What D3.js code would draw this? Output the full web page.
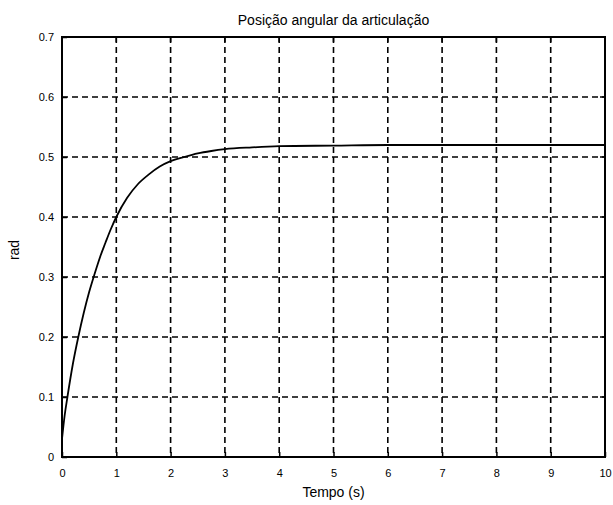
<!DOCTYPE html>
<html>
<head>
<meta charset="utf-8">
<script src="https://cdn.jsdelivr.net/npm/d3@7"></script>
<style>
  body { margin: 0; background: #fff; }
  text { font-family: "Liberation Sans", Arial, sans-serif; fill: #000; }
</style>
</head>
<body>
<div class="chart"></div>
<script>
// values
var tempo = [0, 0.05, 0.1, 0.2, 0.3, 0.4, 0.5, 0.6, 0.7, 0.8, 0.9, 1.0, 1.2, 1.4, 1.6, 1.8, 2.0, 2.25, 2.5, 2.75, 3.0, 3.5, 4, 5, 6, 7, 8, 9, 10];
var posicao = [0.03, 0.07, 0.10, 0.155, 0.20, 0.24, 0.275, 0.305, 0.333, 0.357, 0.38, 0.40, 0.432, 0.455, 0.471, 0.484, 0.493, 0.50, 0.506, 0.51, 0.513, 0.516, 0.518, 0.519, 0.52, 0.52, 0.52, 0.52, 0.52];
var xTicks = [0, 1, 2, 3, 4, 5, 6, 7, 8, 9, 10];
var yTicks = [0, 0.1, 0.2, 0.3, 0.4, 0.5, 0.6, 0.7];

var width = 613, height = 505;
var pLeft = 62, pRight = 605, pTop = 37, pBottom = 457;

var svg = d3.select(".chart").append("svg")
    .attr("width", width)
    .attr("height", height);

var x = d3.scaleLinear().domain([0, 10]).range([pLeft, pRight]);
var y = d3.scaleLinear().domain([0, 0.7]).range([pBottom, pTop]);

// grid
svg.append("g").selectAll("line")
    .data(xTicks.slice(1, -1))
    .enter().append("line")
    .attr("x1", d => x(d)).attr("x2", d => x(d))
    .attr("y1", pTop).attr("y2", pBottom)
    .attr("stroke", "#000").attr("stroke-width", 1.6)
    .attr("stroke-dasharray", "6,4");

svg.append("g").selectAll("line")
    .data(yTicks.slice(1, -1))
    .enter().append("line")
    .attr("x1", pLeft).attr("x2", pRight)
    .attr("y1", d => y(d)).attr("y2", d => y(d))
    .attr("stroke", "#000").attr("stroke-width", 1.6)
    .attr("stroke-dasharray", "6,4");

// axes (ticks inward)
var xAxis = svg.append("g")
    .attr("transform", "translate(0," + pBottom + ")")
    .call(d3.axisBottom(x).tickValues(xTicks).tickSize(-5).tickPadding(12).tickFormat(d3.format("d")));
var yAxis = svg.append("g")
    .attr("transform", "translate(" + pLeft + ",0)")
    .call(d3.axisLeft(y).tickValues(yTicks).tickSize(-5).tickPadding(8).tickFormat(d => d === 0 ? "0" : d3.format(".1f")(d)));

[xAxis, yAxis].forEach(function (a) {
    a.select(".domain").remove();
    a.selectAll("line").attr("stroke", "#000").attr("stroke-width", 1.5);
    a.selectAll("text").style("font-size", "11px").style("font-family", "'Liberation Sans', Arial, sans-serif");
});

// top/right ticks
svg.append("g").selectAll("line")
    .data(xTicks)
    .enter().append("line")
    .attr("x1", d => x(d)).attr("x2", d => x(d))
    .attr("y1", pTop).attr("y2", pTop + 5)
    .attr("stroke", "#000").attr("stroke-width", 1.5);
svg.append("g").selectAll("line")
    .data(yTicks)
    .enter().append("line")
    .attr("x1", pRight).attr("x2", pRight - 5)
    .attr("y1", d => y(d)).attr("y2", d => y(d))
    .attr("stroke", "#000").attr("stroke-width", 1.5);

// frame
svg.append("rect")
    .attr("x", pLeft).attr("y", pTop)
    .attr("width", pRight - pLeft).attr("height", pBottom - pTop)
    .attr("fill", "none").attr("stroke", "#000").attr("stroke-width", 2);

// curve
var line = d3.line()
    .x(function (d, i) { return x(tempo[i]); })
    .y(function (d) { return y(d); })
    .curve(d3.curveMonotoneX);

svg.append("path")
    .datum(posicao)
    .attr("d", line)
    .attr("fill", "none")
    .attr("stroke", "#000")
    .attr("stroke-width", 1.8);

// labels
svg.append("text")
    .attr("x", (pLeft + pRight) / 2).attr("y", 25)
    .attr("text-anchor", "middle")
    .style("font-size", "14px")
    .text("Posição angular da articulação");

svg.append("text")
    .attr("x", (pLeft + pRight) / 2).attr("y", 497)
    .attr("text-anchor", "middle")
    .style("font-size", "14px")
    .text("Tempo (s)");

svg.append("text")
    .attr("transform", "translate(19,250) rotate(-90)")
    .attr("text-anchor", "middle")
    .style("font-size", "14px")
    .text("rad");
</script>
</body>
</html>
